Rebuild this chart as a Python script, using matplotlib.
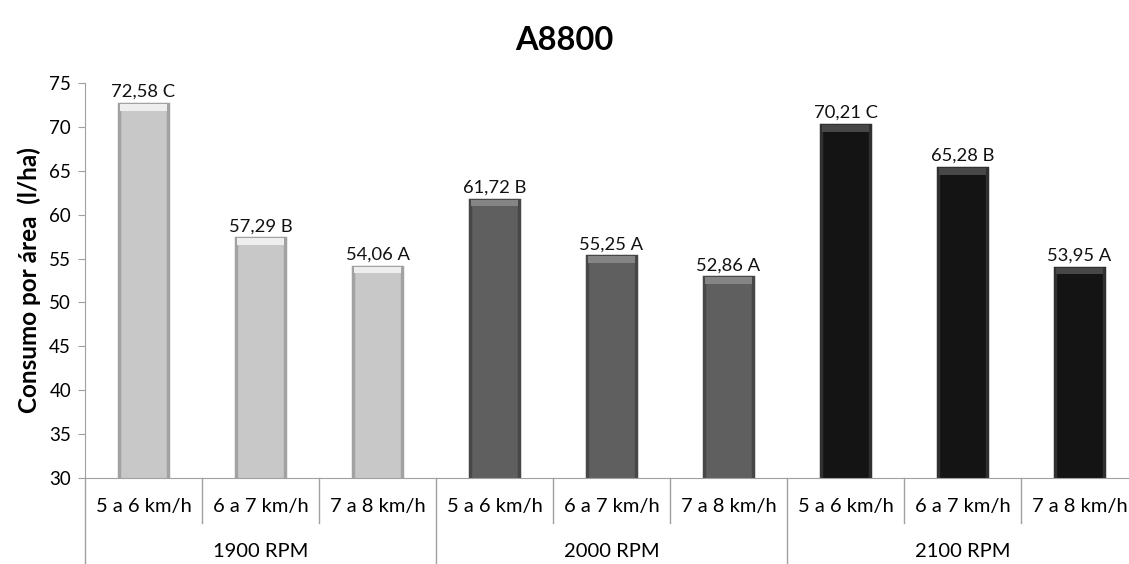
import matplotlib
matplotlib.use('Agg')
from matplotlib import pyplot as plt

plt.rcParams['font.family'] = ['Lato', 'DejaVu Sans']

speeds = ['5 a 6 km/h', '6 a 7 km/h', '7 a 8 km/h']
rpms = ['1900 RPM', '2000 RPM', '2100 RPM']
consumo = [72.58, 57.29, 54.06, 61.72, 55.25, 52.86, 70.21, 65.28, 53.95]
letras = ['C', 'B', 'A', 'B', 'A', 'A', 'C', 'B', 'A']
cores_rpm = ['#c8c8c8', '#5f5f5f', '#141414']
bordas_rpm = ['#a2a2a2', '#474747', '#303030']
topo_rpm = ['#eeeeee', '#858585', '#474747']

fig = plt.figure(figsize=(11.29, 5.64), dpi=100)
ax = fig.add_axes([0.0753, 0.1525, 0.9327, 0.7004])

n = len(consumo)
xs = list(range(n))
cores = [cores_rpm[i // 3] for i in xs]
bordas = [bordas_rpm[i // 3] for i in xs]
topos = [topo_rpm[i // 3] for i in xs]

ax.bar(xs, consumo, width=0.42, color=cores, edgecolor=bordas, linewidth=2.5)
# light bevel at the top of each bar
ax.bar(xs, [0.75] * n, bottom=[v - 0.75 for v in consumo], width=0.40,
       color=topos, linewidth=0)

for x, v, l in zip(xs, consumo, letras):
    txt = f"{v:.2f}".replace('.', ',') + ' ' + l
    ax.annotate(txt, (x, v), xytext=(0, 3), textcoords='offset points',
                ha='center', va='bottom', fontsize=13.2, color='#111111')

ax.set_xlim(-0.5, n - 0.5)
ax.set_ylim(30, 75)
ax.set_yticks(range(30, 80, 5))
ax.tick_params(axis='y', labelsize=13.5, color='#a0a0a0', length=5, pad=5)
ax.set_xticks([])

for s in ['top', 'right']:
    ax.spines[s].set_visible(False)
ax.spines['left'].set_color('#a0a0a0')
ax.spines['bottom'].set_color('#a0a0a0')

ax.set_ylabel('Consumo por área  (l/ha)', fontsize=17.5, fontweight='bold', labelpad=6)

# multi-level x axis
trans = ax.get_xaxis_transform()
for i in range(n + 1):
    xb = i - 0.5
    if i % 3 == 0:
        ax.plot([xb, xb], [0, -0.218], transform=trans, color='#a0a0a0',
                lw=1, clip_on=False)
    else:
        ax.plot([xb, xb], [0, -0.114], transform=trans, color='#a0a0a0',
                lw=1, clip_on=False)
for i in xs:
    ax.text(i, -0.073, speeds[i % 3], transform=trans, ha='center',
            va='center', fontsize=14.5)
for g, nome in enumerate(rpms):
    ax.text(g * 3 + 1, -0.185, nome, transform=trans, ha='center',
            va='center', fontsize=14.5)

fig.text(0.5, 0.929, 'A8800', ha='center', va='center', fontsize=23.5,
         fontweight='bold')

fig.savefig('out.png', dpi=100)
